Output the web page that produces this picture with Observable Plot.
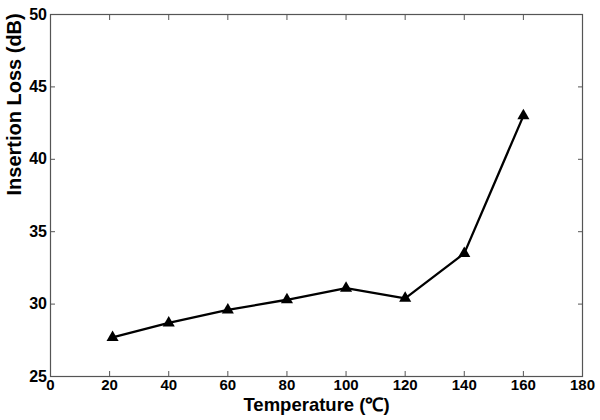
<!DOCTYPE html>
<html>
<head>
<meta charset="utf-8">
<script src="https://cdn.jsdelivr.net/npm/d3@7"></script>
<script src="https://cdn.jsdelivr.net/npm/@observablehq/plot@0.6"></script>
<style>
  html, body { margin: 0; padding: 0; background: #fff; }
  #chart { width: 600px; height: 420px; }
</style>
</head>
<body>
<div id="chart"></div>
<script>
const temperature = [21, 40, 60, 80, 100, 120, 140, 160];
const insertionLoss = [27.7, 28.7, 29.6, 30.3, 31.1, 30.4, 33.5, 43.0];
const xTicks = [0, 20, 40, 60, 80, 100, 120, 140, 160, 180];
const yTicks = [25, 30, 35, 40, 45, 50];
const xTitle = "Temperature (℃)";
const yTitle = "Insertion Loss (dB)";

const data = temperature.map((t, i) => ({t, v: insertionLoss[i]}));
const axisColor = "#555";

const chart = Plot.plot({
  width: 600,
  height: 420,
  marginLeft: 50,
  marginRight: 18,
  marginTop: 14,
  marginBottom: 44,
  style: {fontFamily: "'Liberation Sans', Arial, sans-serif", background: "#fff", color: "#000"},
  x: {domain: [0, 180]},
  y: {domain: [25, 50]},
  marks: [
    Plot.frame({stroke: axisColor, strokeWidth: 1.2}),
    Plot.axisX({ticks: xTicks, tickSize: -5, tickPadding: 8, stroke: axisColor, fill: "#000", fontSize: 15, fontWeight: "bold", label: null}),
    Plot.axisX({anchor: "top", ticks: xTicks, tickSize: -5, stroke: axisColor, tickFormat: () => "", label: null}),
    Plot.axisY({ticks: yTicks, tickSize: -5, tickPadding: 8.5, stroke: axisColor, fill: "#000", fontSize: 16, fontWeight: "bold", label: null}),
    Plot.axisY({anchor: "right", ticks: yTicks, tickSize: -5, stroke: axisColor, tickFormat: () => "", label: null}),
    Plot.text([xTitle], {frameAnchor: "bottom", dy: 34, fontSize: 18.5, fontWeight: "bold", fill: "#000"}),
    Plot.text([yTitle], {frameAnchor: "left", dx: -36, rotate: -90, fontSize: 20, fontWeight: "bold", fill: "#000"}),
    Plot.line(data, {x: "t", y: "v", stroke: "#000", strokeWidth: 2.3}),
    Plot.dot(data, {x: "t", y: "v", symbol: "triangle", r: 4.5, fill: "#000", stroke: "none"})
  ]
});
document.getElementById("chart").appendChild(chart);
</script>
</body>
</html>
